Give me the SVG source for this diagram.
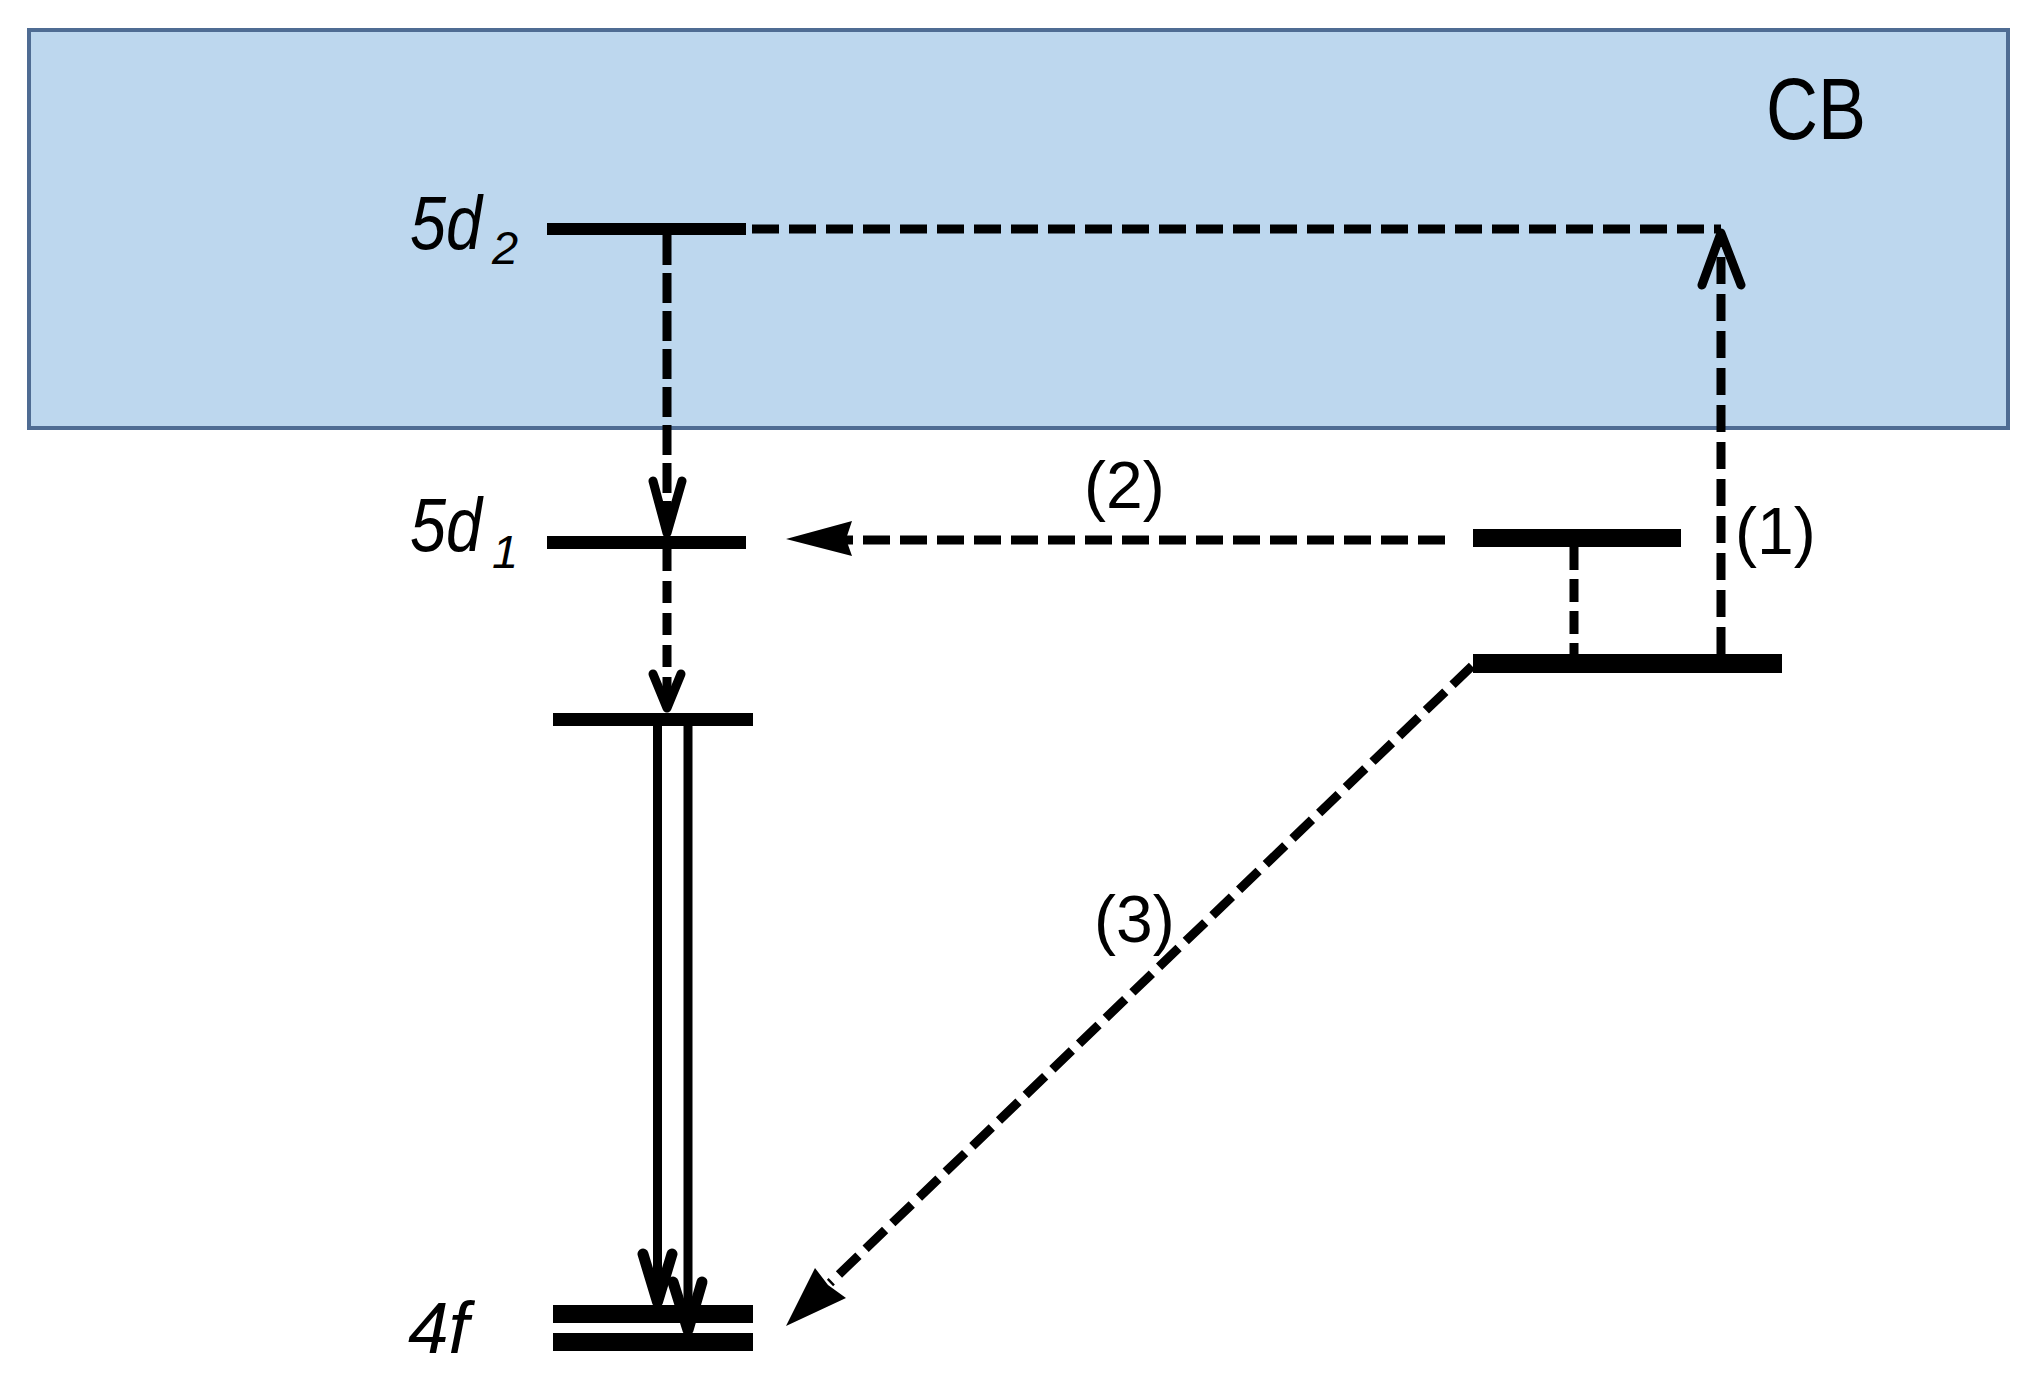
<svg xmlns="http://www.w3.org/2000/svg" width="2027" height="1386" viewBox="0 0 2027 1386">
<style>
.bar{fill:#000}
.dash{stroke:#000;stroke-width:9;fill:none;stroke-dasharray:27 10}
.solid{stroke:#000;stroke-width:9;fill:none}
.chev{stroke:#000;stroke-width:9;fill:none;stroke-linecap:round;stroke-linejoin:round}
.lbl{font-family:"Liberation Sans",Arial,sans-serif;fill:#000}
.it{font-style:italic}
</style>
<rect x="0" y="0" width="2027" height="1386" fill="#fff"/>
<g id="cb">
<rect x="29" y="30" width="1979" height="398" fill="#bdd7ee" stroke="#4f6c93" stroke-width="4"/>
<text class="lbl" x="1766" y="139" font-size="87" textLength="100" lengthAdjust="spacingAndGlyphs">CB</text>
</g>
<g id="level-5d2">
<rect class="bar" x="547" y="223" width="199" height="12"/>
<text class="lbl it" x="410" y="249" font-size="76" textLength="72" lengthAdjust="spacingAndGlyphs">5d</text>
<text class="lbl it" x="492" y="264" font-size="47">2</text>
</g>
<g id="level-5d1">
<rect class="bar" x="547" y="536" width="199" height="13"/>
<text class="lbl it" x="410" y="551" font-size="76" textLength="72" lengthAdjust="spacingAndGlyphs">5d</text>
<text class="lbl it" x="492" y="568" font-size="47">1</text>
</g>
<g id="level-emit">
<rect class="bar" x="553" y="713" width="200" height="13"/>
</g>
<g id="level-4f">
<rect class="bar" x="553" y="1305" width="200" height="18"/>
<rect class="bar" x="553" y="1333" width="200" height="18"/>
<text class="lbl it" x="408" y="1353" font-size="73">4f</text>
</g>
<g id="trap-upper">
<rect class="bar" x="1473" y="529" width="208" height="18"/>
</g>
<g id="trap-lower">
<rect class="bar" x="1473" y="654" width="309" height="19"/>
</g>
<g id="connectors">
<line class="dash" x1="752" y1="229" x2="1721" y2="229"/>
<line class="dash" x1="1721" y1="654" x2="1721" y2="240"/>
<polyline class="chev" points="1702,285 1721,233 1741,285"/>
<line class="dash" x1="667" y1="235" x2="667" y2="530" style="stroke-dasharray:30 8"/>
<polyline class="chev" points="653,481 667,533 682,481"/>
<line class="dash" x1="667" y1="549" x2="667" y2="706" style="stroke-dasharray:22 10"/>
<polyline class="chev" points="653,674 667,708 681,674"/>
<line class="dash" x1="1574" y1="547" x2="1574" y2="654" style="stroke-dasharray:23 9"/>
<line class="dash" x1="1445" y1="540" x2="845" y2="540"/>
<polygon points="786,539 852,521 846,539 852,556" fill="#000"/>
<line class="dash" x1="1472" y1="666" x2="830" y2="1283"/>
<polygon points="786,1326 815,1268 828,1285 846,1298" fill="#000"/>
<line class="solid" x1="657.5" y1="726" x2="657.5" y2="1298"/>
<polyline class="chev" points="643,1254 657.5,1302 672,1254" style="stroke-width:11"/>
<line class="solid" x1="688" y1="726" x2="688" y2="1326"/>
<polyline class="chev" points="673,1282 688,1330 702,1282" style="stroke-width:11"/>
</g>
<g id="labels">
<text class="lbl" x="1735" y="554" font-size="66">(1)</text>
<text class="lbl" x="1084" y="508" font-size="66">(2)</text>
<text class="lbl" x="1094" y="942" font-size="66">(3)</text>
</g>
</svg>
